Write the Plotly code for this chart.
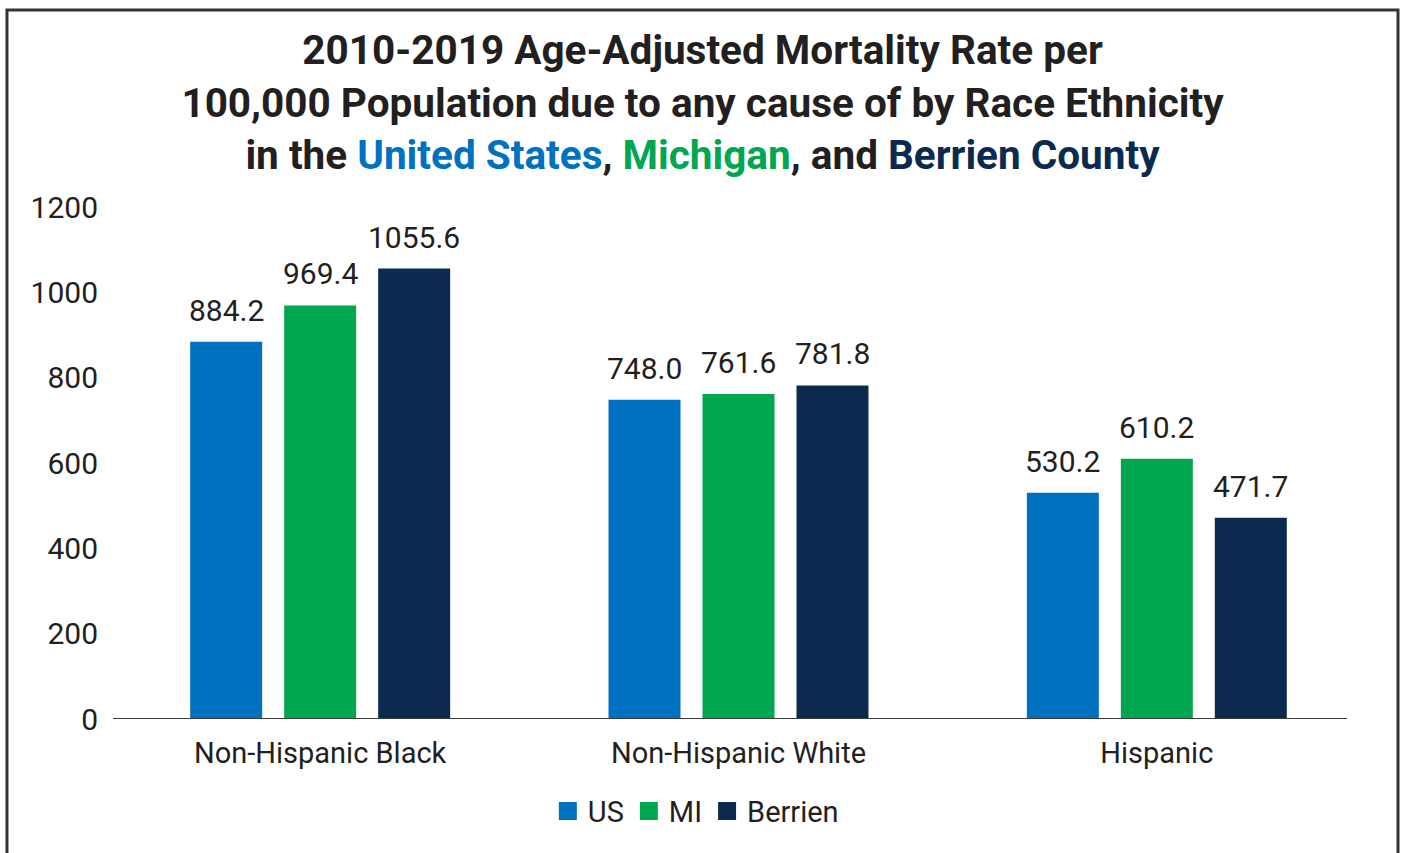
import plotly.graph_objects as go

INK = "#231F20"
US_BLUE = "#0070C0"
MI_GREEN = "#00A650"
BERRIEN_NAVY = "#0B2A4F"
FONT = "Roboto, Arial, sans-serif"

categories = ["Non-Hispanic Black", "Non-Hispanic White", "Hispanic"]
us = [884.2, 748.0, 530.2]
mi = [969.4, 761.6, 610.2]
berrien = [1055.6, 781.8, 471.7]
series = [("US", us, US_BLUE), ("MI", mi, MI_GREEN), ("Berrien", berrien, BERRIEN_NAVY)]

W, H = 1405, 853
MARGIN = dict(l=111, r=39, t=207, b=134)
BARGAP, GROUPGAP = 0.326, 0.234
plot_w = W - MARGIN["l"] - MARGIN["r"]
pitch = plot_w / len(categories) * (1 - BARGAP) / len(series)

fig = go.Figure()
labels = []
for i, (name, vals, color) in enumerate(series):
    fig.add_bar(x=categories, y=vals, name=name, marker_color=color,
                marker_line_width=0, showlegend=False)
    # value labels sit a little higher above the bars than plotly's outside text
    for cat, v in zip(categories, vals):
        labels.append(dict(x=cat, y=v, text=f"{v:.1f}", showarrow=False,
                           xshift=(i - 1) * pitch, yshift=12, yanchor="bottom",
                           font=dict(family=FONT, size=30, color=INK)))

# legend entries with bigger square swatches than the bar icons allow
for name, vals, color in series:
    fig.add_scatter(x=[None], y=[None], name=name, mode="markers",
                    marker=dict(symbol="square", size=16, color=color,
                                line=dict(color=color, width=2)))

title = ("<b>2010-2019 Age-Adjusted Mortality Rate per<br>"
         "100,000 Population due to any cause of by Race Ethnicity<br>"
         f"in the <span style='color:{US_BLUE}'>United States</span>, "
         f"<span style='color:{MI_GREEN}'>Michigan</span>, and "
         f"<span style='color:{BERRIEN_NAVY}'>Berrien County</span></b>")

fig.update_layout(
    width=W, height=H,
    paper_bgcolor="white", plot_bgcolor="white",
    font=dict(family=FONT, size=30, color=INK),
    title=dict(text=title, x=0.5, xanchor="center", y=0.925, yanchor="top",
               font=dict(family=FONT, size=40.5, color=INK)),
    margin=dict(**MARGIN, autoexpand=False),
    barmode="group", bargap=BARGAP, bargroupgap=GROUPGAP,
    showlegend=True,
    legend=dict(orientation="h", x=0.466, xanchor="center", y=-0.18, yanchor="middle",
                font=dict(family=FONT, size=29, color=INK), itemwidth=30,
                itemsizing="trace", traceorder="normal"),
    xaxis=dict(showline=False, ticks="", showgrid=False,
               tickfont=dict(size=29, color=INK), ticklabelstandoff=14),
    yaxis=dict(range=[0, 1200], dtick=200, showgrid=False, zeroline=False,
               showline=False, ticks="", tickfont=dict(size=30, color=INK),
               ticklabelstandoff=12),
    annotations=labels,
    shapes=[
        dict(type="line", xref="paper", yref="y", x0=0.0016, x1=0.9849, y0=0, y1=0,
             line=dict(color="#3A3A3A", width=2)),
        dict(type="rect", xref="paper", yref="paper",
             x0=-0.0829, x1=1.0255, y0=-0.3, y1=1.3848,
             line=dict(color="#333333", width=3), layer="below"),
    ],
)

fig.write_html("out.html", config={"displayModeBar": False},
               post_script="document.body.style.margin='0';")
